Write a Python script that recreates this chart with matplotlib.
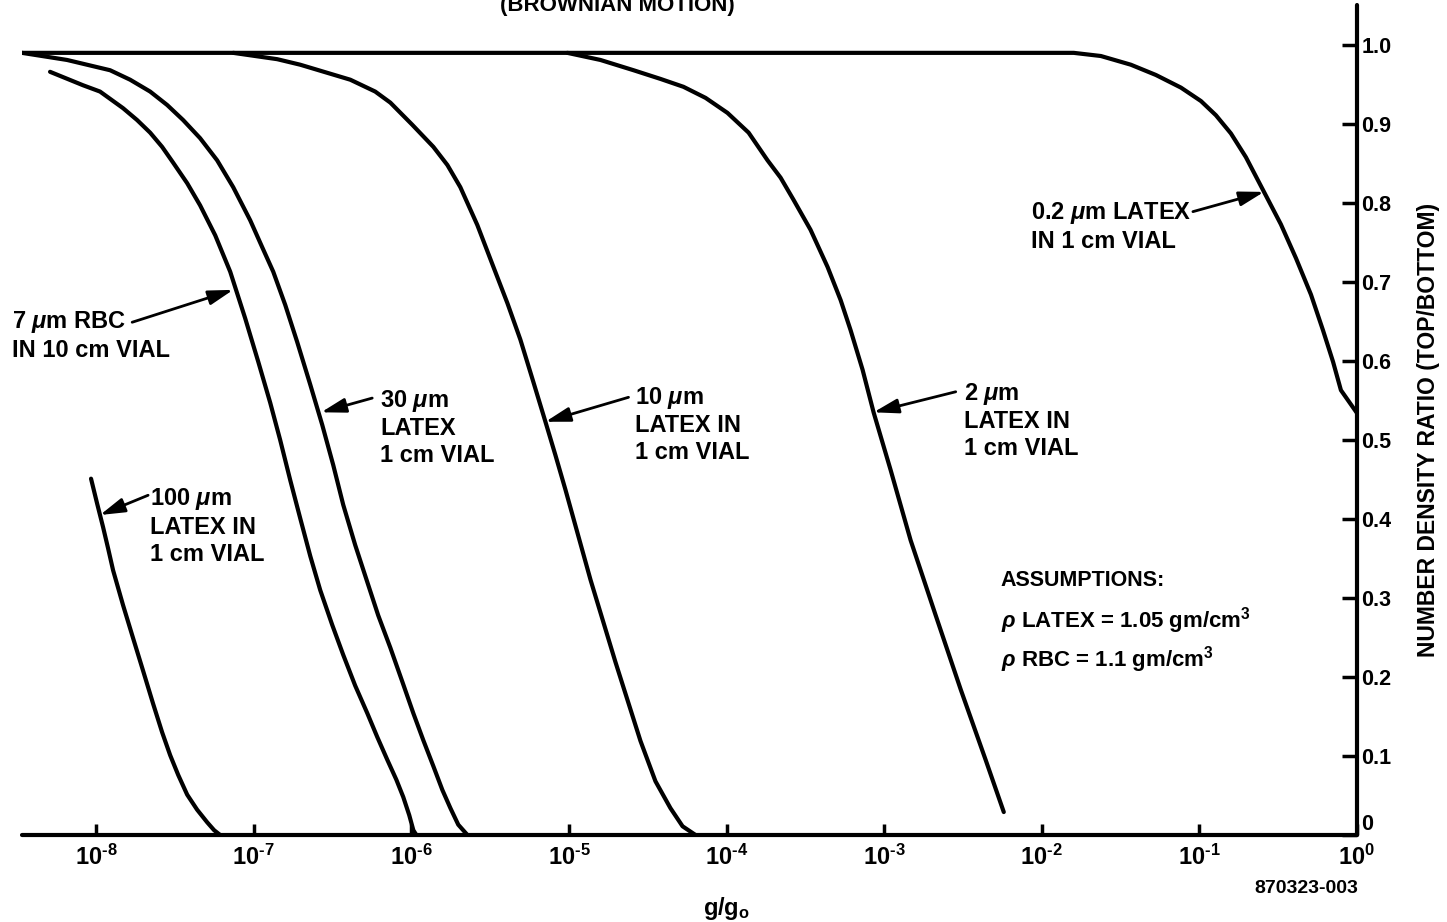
import matplotlib
matplotlib.use("Agg")
import matplotlib.pyplot as plt
from matplotlib.ticker import NullLocator
import numpy as np

plt.rcParams['font.family'] = ['Liberation Sans', 'DejaVu Sans']
plt.rcParams['font.weight'] = 'bold'
plt.rcParams['mathtext.fontset'] = 'custom'
plt.rcParams['mathtext.rm'] = 'Liberation Sans:bold'
plt.rcParams['mathtext.it'] = 'Liberation Sans:bold:italic'
plt.rcParams['mathtext.bf'] = 'Liberation Sans:bold'

# curves: log10(g/g0) and number density ratio (top/bottom)
exp_100um = [-8.032, -7.994, -7.956, -7.924, -7.892, -7.829, -7.765, -7.702, -7.638,
             -7.581, -7.530, -7.479, -7.422, -7.359, -7.295, -7.251, -7.213]
ratio_100um = [0.451, 0.420, 0.390, 0.363, 0.335, 0.291, 0.249, 0.208, 0.166,
               0.130, 0.101, 0.076, 0.051, 0.032, 0.016, 0.006, 0.0]

exp_7um = [-8.292, -8.083, -7.975, -7.829, -7.740, -7.657, -7.581, -7.511, -7.422,
           -7.340, -7.244, -7.149, -7.054, -6.971, -6.895, -6.832, -6.768, -6.705,
           -6.641, -6.578, -6.502, -6.432, -6.356, -6.279, -6.216, -6.152, -6.095,
           -6.051, -6.013, -5.987, -5.968]
ratio_7um = [0.966, 0.949, 0.941, 0.920, 0.905, 0.889, 0.871, 0.851, 0.825,
             0.797, 0.759, 0.713, 0.654, 0.599, 0.547, 0.500, 0.449, 0.401,
             0.353, 0.310, 0.266, 0.228, 0.189, 0.154, 0.124, 0.095, 0.070,
             0.048, 0.025, 0.006, 0.0]

exp_30um = [-8.470, -8.184, -7.911, -7.784, -7.657, -7.549, -7.448, -7.340, -7.232,
            -7.130, -7.022, -6.946, -6.876, -6.800, -6.724, -6.641, -6.565, -6.495,
            -6.432, -6.356, -6.279, -6.210, -6.133, -6.057, -5.987, -5.924, -5.860,
            -5.803, -5.752, -5.702, -5.644]
ratio_30um = [0.990, 0.981, 0.968, 0.956, 0.941, 0.924, 0.905, 0.882, 0.854,
              0.820, 0.778, 0.744, 0.713, 0.671, 0.624, 0.570, 0.519, 0.468,
              0.418, 0.367, 0.320, 0.278, 0.237, 0.194, 0.154, 0.120, 0.087,
              0.057, 0.034, 0.013, 0.0]

exp_10um = [-7.130, -6.851, -6.705, -6.387, -6.229, -6.133, -5.994, -5.860, -5.771,
            -5.689, -5.581, -5.479, -5.390, -5.308, -5.225, -5.149, -5.086, -5.022,
            -4.863, -4.705, -4.546, -4.451, -4.356, -4.279, -4.197]
ratio_10um = [0.990, 0.982, 0.975, 0.956, 0.941, 0.927, 0.899, 0.871, 0.848,
              0.820, 0.772, 0.719, 0.673, 0.627, 0.573, 0.523, 0.481, 0.437,
              0.323, 0.219, 0.119, 0.068, 0.034, 0.011, 0.0]

exp_2um = [-5.010, -4.800, -4.590, -4.419, -4.273, -4.133, -3.994, -3.860, -3.740,
           -3.657, -3.575, -3.467, -3.359, -3.276, -3.213, -3.137, -3.067, -2.959,
           -2.832, -2.673, -2.514, -2.356, -2.241]
ratio_2um = [0.990, 0.981, 0.968, 0.957, 0.947, 0.933, 0.914, 0.889, 0.854,
             0.832, 0.804, 0.766, 0.719, 0.677, 0.639, 0.589, 0.535, 0.462,
             0.373, 0.278, 0.184, 0.095, 0.029]

exp_02um = [-8.470, -1.797, -1.625, -1.435, -1.276, -1.117, -0.990, -0.895, -0.800,
            -0.705, -0.590, -0.483, -0.387, -0.292, -0.216, -0.152, -0.102, 0.0]
ratio_02um = [0.990, 0.990, 0.986, 0.975, 0.962, 0.946, 0.929, 0.911, 0.888,
              0.858, 0.814, 0.773, 0.730, 0.684, 0.639, 0.599, 0.563, 0.534]

curves = [(exp_100um, ratio_100um), (exp_7um, ratio_7um), (exp_30um, ratio_30um),
          (exp_10um, ratio_10um), (exp_2um, ratio_2um), (exp_02um, ratio_02um)]

x_exponents = [-8, -7, -6, -5, -4, -3, -2, -1, 0]
y_ticks = [0, 0.1, 0.2, 0.3, 0.4, 0.5, 0.6, 0.7, 0.8, 0.9, 1.0]
y_ticklabels = ['0', '0.1', '0.2', '0.3', '0.4', '0.5', '0.6', '0.7', '0.8', '0.9', '1.0']

fig = plt.figure(figsize=(14.47, 9.22), dpi=100)
ax = fig.add_axes([0.0152, 0.0944, 0.9226, 0.9002])

for ex, r in curves:
    ax.plot(10 ** np.array(ex), r, color='black', lw=3,
            solid_joinstyle='round', solid_capstyle='round')

ax.set_xscale('log')
ax.set_xlim(10 ** -8.47, 1)
ax.set_ylim(0, 1.0506)

for s in ['top', 'left']:
    ax.spines[s].set_visible(False)
for s in ['bottom', 'right']:
    ax.spines[s].set_linewidth(3)
    ax.spines[s].set_capstyle('round')

# decade ticks, exponent written with a short hyphen
ax.set_xticks([10.0 ** e for e in x_exponents])
ax.set_xticklabels([r'$10^{\text{%s}}$' % str(e).replace('-', '-') if e == 0
                    else r'$10^{\text{-%d}}$' % abs(e) for e in x_exponents])
ax.xaxis.set_minor_locator(NullLocator())
ax.tick_params(axis='x', direction='in', length=8, width=2.5, pad=7, labelsize=17)

ax.yaxis.tick_right()
ax.set_yticks(y_ticks)
ax.set_yticklabels(y_ticklabels)
ax.tick_params(axis='y', direction='in', length=11, width=2.5, pad=3, labelsize=15.5)
# the zero sits above the g/g0 axis so it clears the 10^0 label
ax.get_yticklabels()[0].set_verticalalignment('bottom')

arrow = dict(arrowstyle='-|>,head_length=0.75,head_width=0.22', lw=2,
             color='black', shrinkA=0, shrinkB=0, mutation_scale=20)

def label(text, lx, y, tail, tip, size=17):
    ax.text(10 ** lx, y, text, ha='left', va='center', fontsize=size,
            linespacing=1.2, clip_on=False)
    ax.annotate('', xy=(10 ** tip[0], tip[1]), xytext=(10 ** tail[0], tail[1]),
                arrowprops=arrow, annotation_clip=False)

label('7 $\\mu$m RBC\nIN 10 cm VIAL', -8.533, 0.632, (-7.771, 0.649), (-7.130, 0.690))
label('30 $\\mu$m\nLATEX\n1 cm VIAL', -6.197, 0.516, (-6.248, 0.553), (-6.572, 0.535))
label('10 $\\mu$m\nLATEX IN\n1 cm VIAL', -4.578, 0.520, (-4.622, 0.554), (-5.149, 0.523))
label('2 $\\mu$m\nLATEX IN\n1 cm VIAL', -2.495, 0.525, (-2.546, 0.561), (-3.067, 0.535))
label('0.2 $\\mu$m LATEX\nIN 1 cm VIAL', -2.070, 0.770, (-1.041, 0.789), (-0.590, 0.814))
label('100 $\\mu$m\nLATEX IN\n1 cm VIAL', -7.657, 0.391, (-7.670, 0.430), (-7.975, 0.405))

ax.text(10 ** -2.26, 0.322, 'ASSUMPTIONS:', fontsize=15.5, va='center')
ax.text(10 ** -2.26, 0.272, '$\\rho$ LATEX = 1.05 gm/cm$^3$', fontsize=16, va='center')
ax.text(10 ** -2.26, 0.222, '$\\rho$ RBC = 1.1 gm/cm$^3$', fontsize=16, va='center')

fig.text(0.987, 0.534, 'NUMBER DENSITY RATIO (TOP/BOTTOM)', rotation=90,
         ha='center', va='center', fontsize=16.5)
fig.text(727 / 1447, 1 - 908 / 922, r'$\mathrm{g/g_o}$', ha='center', va='center', fontsize=17)
fig.text(1306 / 1447, 1 - 888 / 922, '870323-003', ha='center', va='center', fontsize=14)
fig.text(0.427, 0.988, '(BROWNIAN MOTION)', ha='center', va='baseline', fontsize=16)

fig.savefig('out.png', dpi=100)
